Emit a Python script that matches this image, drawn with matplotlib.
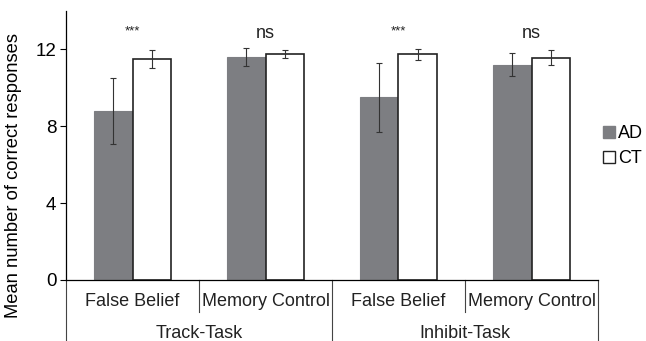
import matplotlib
matplotlib.use("Agg")
import matplotlib.pyplot as plt
import numpy as np
from matplotlib.patches import Patch

plt.rcParams['font.family'] = ['Liberation Sans', 'DejaVu Sans']

categories = ["False Belief", "Memory Control", "False Belief", "Memory Control"]
groups = ["Track-Task", "Inhibit-Task"]
ad_means = [8.8, 11.6, 9.5, 11.2]
ad_err = [1.72, 0.46, 1.78, 0.6]
ct_means = [11.5, 11.75, 11.75, 11.57]
ct_err = [0.45, 0.21, 0.29, 0.38]
sig = ["***", "ns", "***", "ns"]
yticks = [0, 4, 8, 12]

fig = plt.figure(figsize=(6.46, 3.41), dpi=100)
ax = fig.add_axes([66/646, 1-280/341, (598-66)/646, (280-11)/341])

x = np.arange(len(categories))
w = 0.286
gray = '#7d7e82'
ax.bar(x - w/2, ad_means, w, color=gray, edgecolor=gray, linewidth=0.8, label='AD')
ax.bar(x + w/2, ct_means, w, color='white', edgecolor='#222222', linewidth=1.2, label='CT')
ekw = dict(fmt='none', ecolor='#333333', elinewidth=0.8, capsize=2.5, capthick=0.8)
ax.errorbar(x - w/2, ad_means, yerr=ad_err, **ekw)
ax.errorbar(x + w/2, ct_means, yerr=ct_err, **ekw)

for xi, s in zip(x, sig):
    if s == "***":
        ax.text(xi, 12.65, s, ha='center', va='bottom', fontsize=9.5, color='#222222')
    else:
        ax.text(xi, 12.4, s, ha='center', va='bottom', fontsize=13, color='#222222')

ax.set_xlim(-0.5, 3.5)
ax.set_ylim(0, 14)
ax.set_yticks(yticks)
ax.set_yticklabels([str(t) for t in yticks], fontsize=13.5)
ax.tick_params(axis='y', length=4, width=0.8, direction='out', pad=3)
ax.set_xticks([])
ax.spines['top'].set_visible(False)
ax.spines['right'].set_visible(False)
ax.spines['left'].set_linewidth(0.9)
ax.spines['bottom'].set_linewidth(0.9)
ax.set_ylabel("Mean number of correct responses", fontsize=13.2, labelpad=5)
ax.yaxis.set_label_coords(-0.083, 0.39)

trans = ax.get_xaxis_transform()
for xi, c in zip(x, categories):
    ax.text(xi, -0.08, c, transform=trans, ha='center', va='center', fontsize=13, color='#222222')
for gi, g in enumerate(groups):
    ax.text(2*gi + 0.5, -0.2, g, transform=trans, ha='center', va='center', fontsize=13, color='#222222')

for b in [-0.5, 1.5, 3.5]:
    ax.plot([b, b], [0, -0.23], transform=trans, color='#444444', lw=0.8, clip_on=False)
for b in [0.5, 2.5]:
    ax.plot([b, b], [0, -0.12], transform=trans, color='#444444', lw=0.8, clip_on=False)

handles = [Patch(facecolor=gray, edgecolor=gray, label='AD'),
           Patch(facecolor='white', edgecolor='#222222', label='CT')]
fig.legend(handles=handles, loc='center left', bbox_to_anchor=(594/646, 1-146/341),
           frameon=False, fontsize=13, handlelength=0.65, handleheight=0.65,
           handletextpad=0.2, labelspacing=0.45, borderpad=0)

fig.savefig("out.png", dpi=100)
